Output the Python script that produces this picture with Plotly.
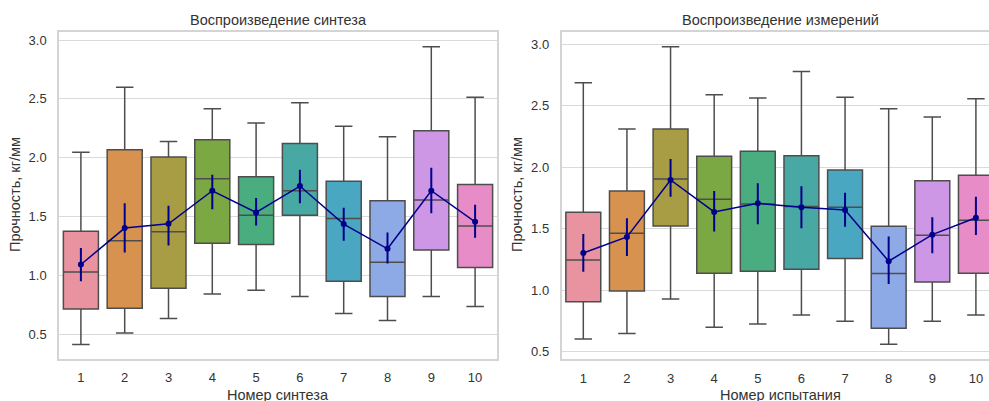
import plotly.graph_objects as go

# categories (1..10) for both panels
categories = [str(i) for i in range(1, 11)]

# left panel: "Воспроизведение синтеза"
synth_low = [0.415, 0.513, 0.635, 0.844, 0.876, 0.822, 0.678, 0.619, 0.822, 0.737]
synth_q1 = [0.717, 0.723, 0.893, 1.275, 1.264, 1.513, 0.952, 0.822, 1.216, 1.069]
synth_med = [1.031, 1.295, 1.371, 1.822, 1.513, 1.720, 1.485, 1.114, 1.641, 1.420]
synth_q3 = [1.377, 2.068, 2.006, 2.153, 1.839, 2.122, 1.800, 1.635, 2.229, 1.774]
synth_high = [2.048, 2.598, 2.139, 2.416, 2.295, 2.467, 2.267, 2.178, 2.943, 2.513]
synth_mean = [1.094, 1.403, 1.439, 1.720, 1.536, 1.760, 1.437, 1.227, 1.720, 1.456]
synth_ci_hi = [1.235, 1.613, 1.592, 1.856, 1.658, 1.898, 1.575, 1.366, 1.915, 1.601]
synth_ci_lo = [0.952, 1.196, 1.256, 1.562, 1.426, 1.613, 1.295, 1.103, 1.528, 1.320]

# right panel: "Воспроизведение измерений"
meas_low = [0.604, 0.647, 0.929, 0.699, 0.726, 0.799, 0.748, 0.561, 0.748, 0.799]
meas_q1 = [0.907, 0.994, 1.523, 1.138, 1.154, 1.171, 1.257, 0.691, 1.067, 1.138]
meas_med = [1.246, 1.463, 1.905, 1.740, 1.702, 1.680, 1.675, 1.135, 1.447, 1.569]
meas_q3 = [1.634, 1.807, 2.311, 2.089, 2.130, 2.094, 1.978, 1.520, 1.891, 1.935]
meas_high = [2.688, 2.311, 2.980, 2.590, 2.563, 2.780, 2.569, 2.476, 2.409, 2.558]
meas_mean = [1.303, 1.433, 1.897, 1.637, 1.707, 1.675, 1.653, 1.236, 1.452, 1.590]
meas_ci_hi = [1.458, 1.585, 2.067, 1.807, 1.870, 1.846, 1.793, 1.436, 1.593, 1.761]
meas_ci_lo = [1.151, 1.279, 1.761, 1.477, 1.537, 1.504, 1.517, 1.051, 1.301, 1.450]

y_ticks = [0.5, 1.0, 1.5, 2.0, 2.5, 3.0]

palette = ["#e8939f", "#d8924f", "#a89c45", "#7ca843", "#49ad80",
           "#48a8a3", "#4aa7c2", "#8eaae6", "#cd97e6", "#e88cc8"]

W, H = 989, 401
FONT = "Liberation Sans, Arial, sans-serif"
GRID = "#dadada"
TXT = "#333333"

fig = go.Figure()

panels = [
	("x", "y", synth_low, synth_q1, synth_med, synth_q3, synth_high, synth_mean, synth_ci_hi, synth_ci_lo),
	("x2", "y2", meas_low, meas_q1, meas_med, meas_q3, meas_high, meas_mean, meas_ci_hi, meas_ci_lo),
]

for xa, ya, low, q1, med, q3, high, mean, hi, lo in panels:
	for i, cat in enumerate(categories):
		fig.add_trace(go.Box(
			x=[cat], q1=[q1[i]], median=[med[i]], q3=[q3[i]],
			lowerfence=[low[i]], upperfence=[high[i]],
			fillcolor=palette[i], line=dict(color="#4d4d4d", width=1.5),
			width=0.8, whiskerwidth=0.5, boxpoints=False,
			xaxis=xa, yaxis=ya, showlegend=False, hoverinfo="skip"))
	fig.add_trace(go.Scatter(
		x=categories, y=mean, mode="lines+markers",
		line=dict(color="#00008b", width=1.5),
		marker=dict(color="#00008b", size=6),
		error_y=dict(type="data", symmetric=False,
			array=[h - m for h, m in zip(hi, mean)],
			arrayminus=[m - l for m, l in zip(mean, lo)],
			color="#00008b", thickness=2, width=0),
		xaxis=xa, yaxis=ya, showlegend=False))

line_common = dict(zeroline=False, linecolor="#d4d4d4", linewidth=1.5,
	ticks="outside", tickcolor="rgba(0,0,0,0)",
	tickfont=dict(family=FONT, size=13, color=TXT))

fig.update_layout(
	autosize=False, width=W, height=H,
	margin=dict(l=0, r=0, t=0, b=0),
	paper_bgcolor="white", plot_bgcolor="white",
	boxmode="overlay",
	font=dict(family=FONT, color=TXT),
	xaxis=dict(domain=[59/W, 497/W], anchor="y", type="category",
		categoryorder="array", categoryarray=categories, range=[-0.5, 9.5],
		showline=True, mirror=True, ticklen=6, showgrid=False, **line_common),
	yaxis=dict(domain=[1-358.7/H, 1-32/H], anchor="x", range=[0.294, 3.068],
		tickvals=y_ticks, tickformat=".1f", showline=True, mirror=True, ticklen=8,
		showgrid=True, gridcolor=GRID, gridwidth=1, **line_common),
	xaxis2=dict(domain=[561.5/W, 1.0], anchor="y2", type="category",
		categoryorder="array", categoryarray=categories, range=[-0.5, 9.3],
		showline=True, mirror=True, ticklen=6, showgrid=False, **line_common),
	yaxis2=dict(domain=[1-359.3/H, 1-32.3/H], anchor="x2", range=[0.438, 3.098],
		tickvals=y_ticks, tickformat=".1f", showline=True, mirror=False, ticklen=8,
		showgrid=True, gridcolor=GRID, gridwidth=1, **line_common),
)

def note(text, x, y, size, angle=0):
	fig.add_annotation(text=text, x=x/W, y=1-y/H, xref="paper", yref="paper",
		showarrow=False, textangle=angle, xanchor="center", yanchor="middle",
		font=dict(family=FONT, size=size, color=TXT))

note("Воспроизведение синтеза", 278, 20, 14.5)
note("Воспроизведение измерений", 780, 20, 14.5)
note("Номер синтеза", 278, 395, 14.5)
note("Номер испытания", 780, 395, 14.5)
note("Прочность, кг/мм", 15, 195, 14.5, -90)
note("Прочность, кг/мм", 517, 195, 14.5, -90)

# page body has a default margin; remove it so the chart sits at the corner
fig.write_html("out.html", config={"displayModeBar": False},
	post_script="document.body.style.margin='0';")
